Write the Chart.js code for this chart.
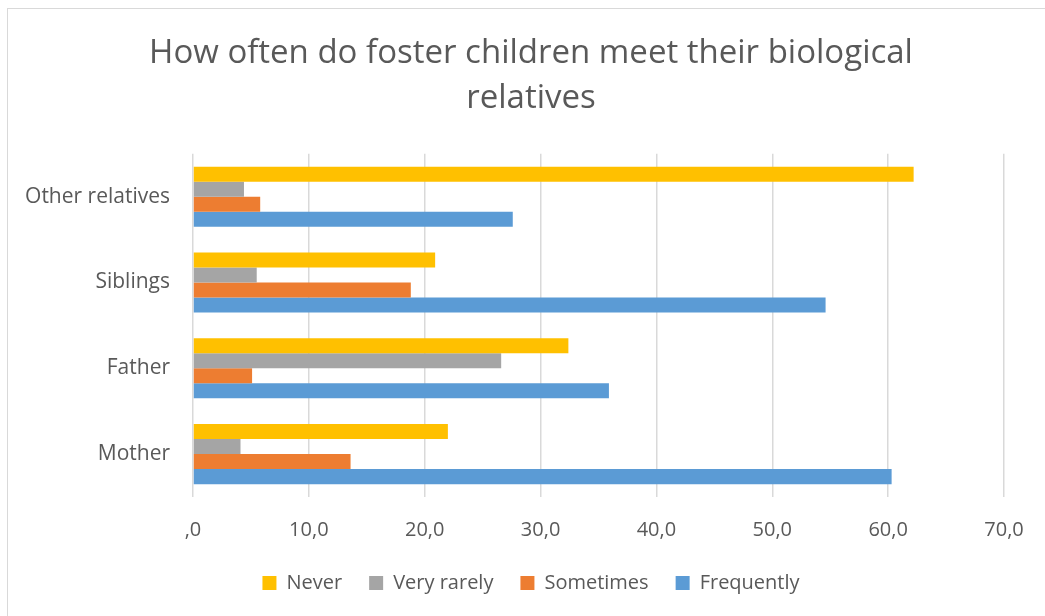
<!DOCTYPE html>
<html>
<head>
<meta charset="utf-8">
<title>How often do foster children meet their biological relatives</title>
<script src="https://cdn.jsdelivr.net/npm/chart.js@4.4.1/dist/chart.umd.min.js"></script>
<style>
  html, body { margin: 0; padding: 0; background: #ffffff; overflow: hidden; }
  #wrap { width: 1045px; height: 616px; position: relative; }
</style>
</head>
<body>
<div id="wrap"><canvas id="chart" width="1045" height="616"></canvas></div>
<script>
// Categories, listed top to bottom as they appear on the chart
const categories = ['Other relatives', 'Siblings', 'Father', 'Mother'];

// Share (%) of foster children per contact frequency
const never      = [62.2, 20.9, 32.4, 22.0];
const veryRarely = [4.4, 5.5, 26.6, 4.1];
const sometimes  = [5.8, 18.8, 5.1, 13.6];
const frequently = [27.6, 54.6, 35.9, 60.3];

const seriesNames = ['Never', 'Very rarely', 'Sometimes', 'Frequently'];
const seriesColors = ['#FFC000', '#A5A5A5', '#ED7D31', '#5B9BD5'];

// Value axis range and tick step
const axisMin = 0;
const axisMax = 70;
const axisStep = 10;

const titleLines = ['How often do foster children meet their biological', 'relatives'];

const FONT = '"Open Sans", "DejaVu Sans", sans-serif';
const TEXT = '#595959';

// White background and a thin frame around the chart
const framePlugin = {
  id: 'frame',
  beforeDraw(chart) {
    const ctx = chart.ctx;
    ctx.save();
    ctx.fillStyle = '#ffffff';
    ctx.fillRect(0, 0, chart.width, chart.height);
    ctx.strokeStyle = '#D9D9D9';
    ctx.lineWidth = 1;
    ctx.strokeRect(7.5, 8.5, chart.width + 50, chart.height + 50);
    ctx.restore();
  }
};

function formatTick(v) {
  if (v === 0) return ',0';
  return v.toFixed(1).replace('.', ',');
}

function draw() {
  const values = [never, veryRarely, sometimes, frequently];
  new Chart(document.getElementById('chart'), {
    type: 'bar',
    data: {
      labels: categories,
      datasets: seriesNames.map((name, i) => ({
        label: name,
        data: values[i],
        backgroundColor: seriesColors[i],
        borderWidth: 0,
        categoryPercentage: 0.7,
        barPercentage: 1.0
      }))
    },
    options: {
      indexAxis: 'y',
      responsive: false,
      animation: false,
      layout: { padding: { top: 0, left: 21, right: 4, bottom: 13 } },
      plugins: {
        tooltip: { enabled: false },
        title: {
          display: true,
          text: titleLines,
          color: TEXT,
          font: { family: FONT, size: 33, weight: 'normal', lineHeight: 1.36 },
          padding: { top: 31, bottom: 33 }
        },
        legend: {
          position: 'bottom',
          labels: {
            color: TEXT,
            font: { family: FONT, size: 20 },
            boxWidth: 14,
            boxHeight: 14,
            padding: 27
          }
        }
      },
      scales: {
        x: {
          min: axisMin,
          max: axisMax,
          ticks: {
            stepSize: axisStep,
            color: TEXT,
            font: { family: FONT, size: 20 },
            padding: 21,
            callback: (v) => formatTick(v)
          },
          grid: { color: '#D9D9D9', lineWidth: 1.5, drawTicks: false },
          border: { display: false },
          afterFit(scale) {
            scale.height = 49;
            // room on the right so the plot ends where the 70 gridline sits
            scale.paddingRight = 41;
          }
        },
        y: {
          ticks: {
            color: TEXT,
            font: { family: FONT, size: 21 },
            padding: 23
          },
          grid: { display: false, drawTicks: false },
          border: { display: false },
          afterFit(scale) { scale.width = 172; }
        }
      }
    },
    plugins: [framePlugin]
  });
}

if (document.fonts && document.fonts.load) {
  document.fonts.load('20px "Open Sans"').then(draw, draw);
} else {
  draw();
}
</script>
</body>
</html>
